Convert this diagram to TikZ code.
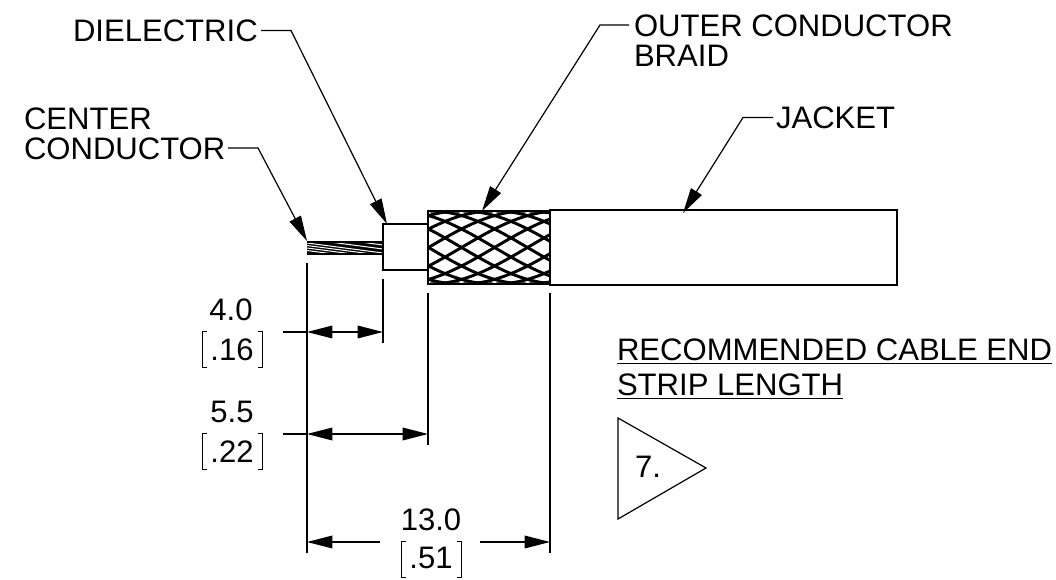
\documentclass[tikz,border=0pt]{standalone}
\usepackage{fontspec}
\setmainfont{Liberation Sans}
\usetikzlibrary{arrows.meta}
\tikzset{
  lbl/.style={inner sep=0pt,outer sep=0pt,align=left,font=\fontsize{23.3}{22}\selectfont},
  lblwide/.style={lbl,font=\fontsize{23.3}{26.25}\selectfont},
  dim/.style={inner sep=0pt,outer sep=0pt,align=center,font=\fontsize{23.3}{22}\selectfont},
  part/.style={draw=black,line width=1.3pt,fill=white,inner sep=0pt,outer sep=0pt,anchor=north west},
  thin line/.style={line width=0.9pt,black},
  thick line/.style={line width=1.5pt,black},
  tip/.style={-{Triangle[length=19pt,width=9.5pt]}},
  tips/.style={{Triangle[length=19pt,width=9.5pt]}-{Triangle[length=19pt,width=9.5pt]}},
  brk/.style={line width=0.6pt,black},
  wire/.style={line width=2.2pt,black},
}
\begin{document}
\begin{tikzpicture}[x=0.75pt,y=-0.75pt]
\useasboundingbox (0,0) rectangle (1056,580);
% parts
\node[part,minimum width=76*0.75pt,minimum height=13*0.75pt,fill=black,line width=0.4pt] (core) at (307,241) {};
\begin{scope}
\clip (307,243.5) rectangle (383,252.5);
\foreach \s in {231,235,239,243,245.5,248,250.5}{
  \draw[white,line width=0.75pt] (307,\s) -- (383,\s+10);
}
\end{scope}
\node[part,minimum width=45*0.75pt,minimum height=46*0.75pt] (diel) at (383,224) {};
\node[part,minimum width=347*0.75pt,minimum height=75*0.75pt] (jacket) at (550,210) {};
\node[part,minimum width=122*0.75pt,minimum height=73*0.75pt,line width=1.9pt] (braid) at (428,211) {};
\begin{scope}
\clip (428,211) rectangle (550,284);
\foreach \o in {-230,-197,...,562}{
  \draw[wire] plot[domain=\o:\o+195,samples=30] (\x,{247.5-36.5*cos((\x-\o)/195*180)});
  \draw[wire] plot[domain=\o:\o+195,samples=30] (\x,{247.5+36.5*cos((\x-\o)/195*180)});
}
\end{scope}
\draw[line width=2pt] (428,211) rectangle (550,284);
% labels
\node[lbl,anchor=base west] (tdiel) at (73,42) {DIELECTRIC};
\node[lbl,anchor=north west] (tcc) at (24,108) {CENTER\\CONDUCTOR};
\node[lbl,anchor=north west] (tbraid) at (634,15) {OUTER CONDUCTOR\\BRAID};
\node[lbl,anchor=base west] (tjacket) at (776,129) {JACKET};
\node[lblwide,anchor=north west] (trec) at (617,339) {\underline{RECOMMENDED CABLE END}\\\underline{STRIP LENGTH}};
% leaders
\coordinate (dielE) at (291,30.5); \coordinate (dielT) at (387,224);
\coordinate (ccE) at (258,148); \coordinate (ccT) at (307,241);
\coordinate (brE) at (600,25); \coordinate (brT) at (482,211);
\coordinate (jaE) at (743,117.5); \coordinate (jaT) at (683,213);
\coordinate (dielS) at (261,30.5); \coordinate (ccS) at (228,148);
\coordinate (brS) at (629,25); \coordinate (jaS) at (773,117.5);
\draw[thin line,tip] (dielS) -- (dielE) -- (dielT);
\draw[thin line,tip] (ccS) -- (ccE) -- (ccT);
\draw[thin line,tip] (brS) -- (brE) -- (brT);
\draw[thin line,tip] (jaS) -- (jaE) -- (jaT);
% extension lines
\coordinate (e1a) at (307,263); \coordinate (e1b) at (307,445); \coordinate (e1c) at (307,553);
\coordinate (e2a) at (383,279); \coordinate (e2b) at (383,343);
\coordinate (e3a) at (428,293); \coordinate (e3b) at (428,445);
\coordinate (e4a) at (550,293); \coordinate (e4b) at (550,553);
\draw[thick line] (e1a) -- (e1b);
\draw[thin line] (e1b) -- (e1c);
\draw[thin line] (e2a) -- (e2b);
\draw[thin line] (e3a) -- (e3b);
\draw[thin line] (e4a) -- (e4b);
% dimensions
\coordinate (d1l) at (283,332); \coordinate (d1a) at (307,332); \coordinate (d1b) at (383,332);
\coordinate (d2l) at (283,434); \coordinate (d2a) at (307,434); \coordinate (d2b) at (428,434);
\coordinate (d3a) at (307,542); \coordinate (d3m) at (380,542); \coordinate (d3n) at (480,542); \coordinate (d3b) at (550,542);
\draw[thin line] (d1l) -- (d1a);
\draw[thin line,tips] (d1a) -- (d1b);
\draw[thin line] (d2l) -- (d2a);
\draw[thin line,tips] (d2a) -- (d2b);
\draw[thin line,tip] (d3m) -- (d3a);
\draw[thin line,tip] (d3n) -- (d3b);
% values
\node[dim] (v1) at (231,310) {4.0};
\node[dim] (v1i) at (232,350) {.16};
\node[dim] (v2) at (232,412) {5.5};
\node[dim] (v2i) at (232,452) {.22};
\node[dim] (v3) at (431,520) {13.0};
\node[dim] (v3i) at (431,558) {.51};
\foreach \cx/\cy in {232/349.5,232/451,431/559.5}{
  \draw[brk] (\cx-25,\cy-18) -- (\cx-30,\cy-18) -- (\cx-30,\cy+18) -- (\cx-25,\cy+18);
  \draw[brk] (\cx+26,\cy-18) -- (\cx+30,\cy-18) -- (\cx+30,\cy+18) -- (\cx+26,\cy+18);
}
% flag note
\coordinate (f1) at (618,418); \coordinate (f2) at (618,519); \coordinate (f3) at (706,468);
\draw[thin line] (f1) -- (f2) -- (f3) -- cycle;
\node[dim] (fl) at (648,467) {7.};
\end{tikzpicture}
\end{document}
